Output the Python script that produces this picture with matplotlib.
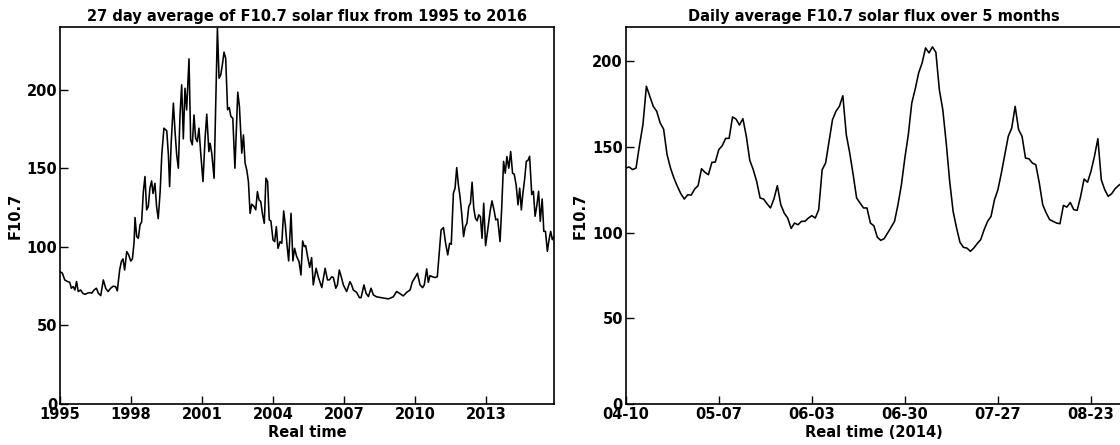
"""F10.7 solar flux: 27-day averages 1995-2016 and daily values over 5 months of 2014."""

import matplotlib
matplotlib.use("Agg")
import matplotlib.pyplot as plt
import matplotlib.dates as mdates
import numpy as np
import pandas as pd

# --- 27 day averages (decimal year, flux) ---
avg_year = [
    1995.00, 1995.10, 1995.20, 1995.31, 1995.41, 1995.48, 1995.56, 1995.63, 1995.70, 1995.77,
    1995.87, 1995.96, 1996.06, 1996.15, 1996.27, 1996.34, 1996.44, 1996.54, 1996.62, 1996.72,
    1996.83, 1996.93, 1997.03, 1997.14, 1997.25, 1997.35, 1997.42, 1997.52, 1997.59, 1997.66,
    1997.73, 1997.82, 1997.90, 1997.99, 1998.06, 1998.13, 1998.17, 1998.24, 1998.31, 1998.38,
    1998.45, 1998.52, 1998.59, 1998.66, 1998.73, 1998.80, 1998.87, 1998.93, 1999.01, 1999.08,
    1999.15, 1999.23, 1999.30, 1999.39, 1999.51, 1999.58, 1999.63, 1999.70, 1999.79, 1999.86,
    1999.93, 2000.00, 2000.07, 2000.14, 2000.21, 2000.28, 2000.35, 2000.45, 2000.52, 2000.59,
    2000.66, 2000.73, 2000.80, 2000.87, 2000.94, 2001.04, 2001.13, 2001.20, 2001.29, 2001.34,
    2001.41, 2001.51, 2001.65, 2001.72, 2001.79, 2001.86, 2001.93, 2002.00, 2002.08, 2002.15,
    2002.22, 2002.30, 2002.39, 2002.51, 2002.58, 2002.68, 2002.75, 2002.82, 2002.89, 2002.96,
    2003.03, 2003.10, 2003.20, 2003.27, 2003.34, 2003.41, 2003.48, 2003.56, 2003.63, 2003.70,
    2003.77, 2003.84, 2003.91, 2004.00, 2004.07, 2004.14, 2004.21, 2004.30, 2004.37, 2004.45,
    2004.52, 2004.59, 2004.66, 2004.76, 2004.84, 2004.91, 2005.00, 2005.10, 2005.18, 2005.25,
    2005.32, 2005.38, 2005.46, 2005.55, 2005.63, 2005.70, 2005.82, 2005.91, 2006.06, 2006.20,
    2006.30, 2006.38, 2006.48, 2006.55, 2006.65, 2006.72, 2006.80, 2006.90, 2006.97, 2007.11,
    2007.25, 2007.32, 2007.39, 2007.53, 2007.65, 2007.72, 2007.84, 2007.93, 2008.03, 2008.14,
    2008.24, 2008.38, 2008.59, 2008.73, 2008.87, 2009.08, 2009.22, 2009.34, 2009.50, 2009.65,
    2009.79, 2009.89, 2010.00, 2010.10, 2010.21, 2010.32, 2010.39, 2010.49, 2010.56, 2010.63,
    2010.74, 2010.84, 2010.94, 2011.01, 2011.10, 2011.20, 2011.28, 2011.38, 2011.46, 2011.53,
    2011.62, 2011.69, 2011.76, 2011.83, 2011.90, 2011.97, 2012.05, 2012.12, 2012.19, 2012.27,
    2012.34, 2012.41, 2012.48, 2012.55, 2012.62, 2012.69, 2012.76, 2012.83, 2012.90, 2012.98,
    2013.07, 2013.17, 2013.25, 2013.34, 2013.41, 2013.49, 2013.59, 2013.66, 2013.74, 2013.81,
    2013.88, 2013.96, 2014.04, 2014.12, 2014.19, 2014.27, 2014.35, 2014.42, 2014.49, 2014.55,
    2014.63, 2014.70, 2014.77, 2014.84, 2014.93, 2015.00, 2015.07, 2015.14, 2015.22, 2015.29,
    2015.37, 2015.44, 2015.51, 2015.59, 2015.66, 2015.73, 2015.80, 2015.87,
]
avg_flux = [
    84.3, 83.3, 79.0, 78.0, 77.5, 73.7, 74.7, 72.6, 78.0, 71.6,
    72.6, 70.5, 69.8, 70.5, 71.0, 70.5, 72.6, 73.7, 70.5, 69.0,
    79.0, 73.7, 71.6, 73.7, 75.0, 74.7, 72.0, 85.3, 90.6, 92.4,
    85.3, 97.0, 95.0, 91.0, 92.4, 103.0, 118.7, 106.6, 105.5, 114.0,
    116.0, 135.0, 144.8, 123.6, 125.7, 137.4, 142.0, 134.0, 140.5, 125.7,
    118.0, 135.0, 158.6, 175.6, 173.9, 158.6, 138.4, 167.0, 191.5, 173.5,
    158.6, 150.1, 184.0, 203.2, 168.8, 201.0, 187.2, 219.7, 168.1, 165.0,
    184.0, 169.2, 167.0, 175.6, 160.7, 141.6, 169.2, 184.5, 160.7, 166.0,
    159.7, 143.7, 239.3, 207.4, 209.5, 216.0, 224.0, 220.0, 187.3, 188.7,
    183.0, 182.0, 150.1, 198.5, 189.4, 159.7, 171.3, 153.3, 149.0, 141.6,
    121.4, 127.2, 125.7, 123.6, 135.2, 129.9, 128.9, 120.4, 115.0, 143.7,
    141.6, 117.2, 116.5, 104.4, 103.4, 112.9, 99.1, 103.4, 102.3, 122.9,
    114.0, 101.3, 91.1, 121.4, 91.1, 99.1, 93.8, 90.6, 82.1, 103.8,
    100.2, 100.8, 93.8, 87.0, 93.2, 75.8, 86.4, 81.0, 74.1, 86.4,
    79.0, 79.0, 81.0, 80.5, 73.7, 75.8, 85.3, 80.0, 75.8, 71.6,
    77.9, 75.8, 72.6, 71.1, 67.7, 67.7, 75.8, 70.5, 68.4, 73.7,
    69.4, 68.2, 67.7, 67.3, 66.9, 68.2, 71.6, 70.5, 68.8, 71.1,
    72.6, 77.9, 80.5, 83.2, 75.8, 74.1, 75.8, 86.0, 77.5, 81.7,
    81.0, 80.5, 81.0, 93.8, 110.8, 112.3, 103.4, 94.9, 102.3, 101.7,
    134.2, 137.4, 150.5, 139.5, 132.0, 121.4, 106.6, 112.9, 115.0, 125.7,
    127.8, 141.2, 124.6, 118.3, 116.6, 120.4, 119.3, 105.5, 127.8, 100.8,
    110.8, 122.5, 129.3, 123.2, 117.2, 117.8, 103.4, 124.6, 154.4, 146.9,
    157.5, 150.1, 160.7, 146.9, 146.3, 139.5, 126.8, 137.4, 123.6, 133.3,
    143.2, 154.5, 155.1, 157.7, 133.3, 135.4, 119.5, 125.8, 135.4, 116.3,
    130.5, 109.9, 109.9, 97.2, 104.6, 109.9, 104.6, 106.7,
]
year_ticks = [1995, 1998, 2001, 2004, 2007, 2010, 2013]

# --- daily values from 2014-04-10 ---
daily_start = "2014-04-10"
daily_flux = [
    137.7, 138.3, 136.8, 137.7, 151.0, 163.0, 185.4, 179.6, 173.7, 170.8,
    164.0, 160.4, 145.5, 137.7, 131.8, 127.0, 122.7, 119.6, 122.1, 121.9,
    125.4, 127.4, 137.3, 135.2, 133.8, 141.0, 141.2, 148.4, 150.7, 155.0,
    155.0, 167.5, 166.3, 162.8, 166.5, 156.2, 142.2, 136.8, 129.9, 120.2,
    119.6, 116.9, 114.4, 119.6, 127.4, 116.3, 111.4, 108.5, 102.5, 105.6,
    104.6, 106.6, 106.6, 108.5, 109.9, 108.5, 113.4, 136.7, 140.6, 153.3,
    165.9, 170.8, 173.7, 179.9, 157.2, 146.5, 133.8, 120.2, 117.3, 114.4,
    114.4, 105.6, 104.0, 97.4, 95.5, 96.5, 99.8, 103.1, 106.6, 116.3,
    128.0, 143.6, 157.2, 175.6, 183.8, 193.2, 199.0, 207.8, 204.9, 208.4,
    205.2, 183.4, 171.8, 152.3, 130.0, 112.4, 102.7, 94.3, 91.4, 91.0,
    89.1, 91.0, 93.6, 95.9, 101.7, 106.6, 109.5, 119.2, 125.1, 134.8,
    145.5, 156.2, 161.0, 173.7, 160.1, 156.2, 143.5, 143.1, 140.6, 139.6,
    129.0, 116.3, 111.5, 107.6, 106.6, 105.6, 105.2, 115.9, 114.9, 117.6,
    113.4, 113.0, 121.2, 131.3, 129.4, 135.8, 144.5, 154.8, 130.8, 125.0,
    121.2, 122.7, 125.6, 127.5, 129.0,
]
daily_tick_step = 27

plt.rcParams["font.family"] = "DejaVu Sans"
plt.rcParams["font.weight"] = "bold"
plt.rcParams["axes.labelweight"] = "bold"
plt.rcParams["axes.titleweight"] = "bold"

FS = 10.5

fig = plt.figure(figsize=(11.2, 4.45), dpi=100)
ax1 = fig.add_axes([60 / 1120, 41 / 445, 494 / 1120, 377 / 445])
ax2 = fig.add_axes([625.7 / 1120, 41 / 445, 496.3 / 1120, 377 / 445])


def style(ax):
    ax.tick_params(direction="in", length=6, width=1, top=False, right=False,
                   labelsize=FS, pad=2)
    for s in ax.spines.values():
        s.set_linewidth(1.2)
    for lab in ax.get_xticklabels() + ax.get_yticklabels():
        lab.set_fontweight("bold")


ax1.plot(avg_year, avg_flux, color="black", lw=1.15)
ax1.set_xlim(1995, avg_year[-1])
ax1.set_ylim(0, 240)
ax1.set_xticks(year_ticks)
ax1.set_xticklabels([str(y) for y in year_ticks])
ax1.set_yticks([0, 50, 100, 150, 200])
ax1.set_title("27 day average of F10.7 solar flux from 1995 to 2016",
              fontsize=FS, fontweight="bold", pad=4)
ax1.set_xlabel("Real time", fontsize=FS, fontweight="bold", labelpad=2)
ax1.set_ylabel("F10.7", fontsize=FS, fontweight="bold", labelpad=3)
style(ax1)

dates = pd.date_range(daily_start, periods=len(daily_flux), freq="D")
ax2.plot(dates, daily_flux, color="black", lw=1.15)
ax2.set_xlim(dates[0], dates[-1])
ax2.set_ylim(0, 220)
ax2.set_xticks(dates[::daily_tick_step])
ax2.xaxis.set_major_formatter(mdates.DateFormatter("%m-%d"))
ax2.set_yticks([0, 50, 100, 150, 200])
ax2.set_title("Daily average F10.7 solar flux over 5 months",
              fontsize=FS, fontweight="bold", pad=4)
ax2.set_xlabel("Real time (2014)", fontsize=FS, fontweight="bold", labelpad=2)
ax2.set_ylabel("F10.7", fontsize=FS, fontweight="bold", labelpad=3)
style(ax2)

fig.savefig("out.png", dpi=100)
